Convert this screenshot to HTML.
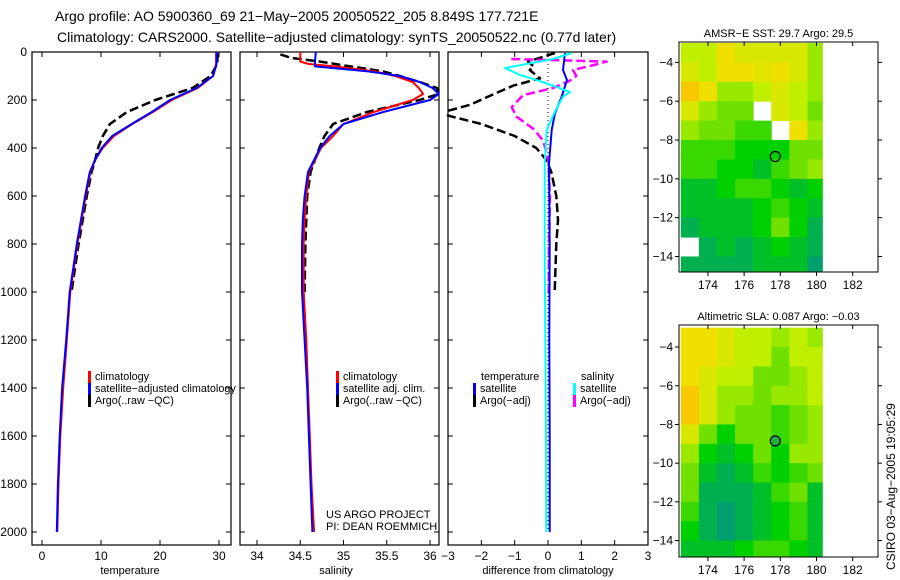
<!DOCTYPE html>
<html><head><meta charset="utf-8"><style>
html,body{margin:0;padding:0;background:#fff;}
svg{display:block;font-family:"Liberation Sans",sans-serif;}
</style></head><body>
<svg id="chart" width="900" height="580" viewBox="0 0 900 580" xmlns="http://www.w3.org/2000/svg">
<text x="55" y="21" font-size="14">Argo profile: AO 5900360_69 21−May−2005 20050522_205 8.849S 177.721E</text>
<text x="57" y="42" font-size="14">Climatology: CARS2000. Satellite−adjusted climatology: synTS_20050522.nc (0.77d later)</text>
<text transform="translate(895,570) rotate(-90)" font-size="12">CSIRO 03−Aug−2005 19:05:29</text>
<g id="g"></g>
</svg>
<script>
// ---- temperature panel data ----
const tDepth = [0,50,100,150,200,250,300,350,400,450,500,600,800,1000,1200,1400,1600,1800,2000];
const tClim  = [29.5,29.5,29.0,26.4,22.0,18.8,15.3,12.2,10.3,9.0,8.2,7.4,6.0,4.8,4.2,3.6,3.1,2.8,2.6];
const tSat   = [29.6,29.6,29.0,26.2,21.7,18.6,15.2,11.9,10.1,9.0,8.1,7.3,5.9,4.7,4.1,3.4,3.0,2.7,2.5];
const aDepthT = [5,50,100,150,200,250,300,350,400,450,500,600,800,1000];
const tArgo  = [29.8,29.7,28.6,25.5,19.2,14.4,11.5,10.3,9.5,9.0,8.4,7.6,6.2,5.0];
// ---- salinity panel data ----
const sDepth = [0,40,50,60,80,100,125,150,175,200,250,300,350,400,500,600,700,800,1000,1200,1400,1600,1800,2000];
const sClim  = [34.5,34.5,34.6,34.9,35.35,35.6,35.8,35.87,35.92,35.8,35.35,35.0,34.88,34.74,34.6,34.57,34.55,34.54,34.54,34.57,34.59,34.61,34.63,34.66];
const sSat   = [34.68,34.67,34.67,34.67,35.27,35.65,35.88,36.03,36.1,36.0,35.46,35.0,34.84,34.73,34.59,34.55,34.53,34.52,34.52,34.55,34.58,34.6,34.62,34.64];
const aDepthS = [10,25,40,60,80,100,125,150,175,200,250,300,350,400,500,600,800,1000];
const sArgo  = [34.27,34.4,34.73,35.08,35.45,35.65,35.88,36.08,36.1,35.88,35.27,34.88,34.78,34.72,34.62,34.58,34.56,34.55];
// ---- difference panel data ----
const dDepthSat = [4,75,117,186,255,325,464,800,1200,1600,2000];
const dTempSat  = [0.51,0.45,0.57,0.41,0.21,0.11,0.03,0.05,0.04,0.05,0.05];
const dDepthSS  = [4,29,67,96,117,146,167,186,248,325,464,800,1200,1600,2000];
const dSalSat   = [0.71,0.15,-1.29,-0.84,-0.34,0.26,0.66,0.45,0.21,-0.04,-0.1,-0.1,-0.08,-0.06,-0.05];
const dDepthTA  = [4,40,60,75,110,140,170,220,245,265,300,350,400,450,500,600,700,800,1000];
const dTempArgo = [0.21,-0.6,-0.43,-0.55,-0.24,-1.04,-1.54,-2.34,-3.0,-3.0,-2.0,-1.0,-0.35,-0.05,0.1,0.25,0.3,0.25,0.2];
const dDepthSA  = [29,40,50,75,100,120,150,180,230,270,320,370,450,600,800,1000];
const dSalArgo  = [-1.1,1.76,1.5,0.75,0.85,0.65,0.15,-0.75,-1.09,-0.94,-0.44,-0.14,0.01,0.06,0.03,0.02];
// ---- map data (1-degree cells, lon 172.5..180, lat -3..-15; null = no data) ----
const mapLons = [172.5,173.5,174.5,175.5,176.5,177.5,178.5,179.5];
const mapLats = [-3,-4,-5,-6,-7,-8,-9,-10,-11,-12,-13,-14];
const sstGrid = [
 [.6,.6,.8,.7,.7,.7,.7,.5],
 [.7,.6,.8,.8,.75,.8,.7,.5],
 [.9,.8,.5,.5,.6,.7,.6,.5],
 [.7,.5,.4,.4,null,.7,.6,.4],
 [.5,.4,.4,.3,.3,null,.8,.5],
 [.3,.3,.3,.2,.2,.2,.4,.4],
 [.3,.3,.2,.2,.1,.3,.4,.5],
 [.1,.1,.2,.3,.3,.2,.1,.2],
 [.1,.1,.1,.1,.2,.3,.2,.1],
 [0,.1,.1,.1,.2,.4,.2,0],
 [null,0,.1,0,.1,.2,.1,0],
 [0,0,0,0,.1,.1,.1,-.1]];
const slaGrid = [
 [.8,.8,.7,.6,.6,.5,.6,.5],
 [.8,.8,.7,.6,.6,.4,.6,.6],
 [.8,.7,.6,.6,.4,.4,.5,.6],
 [.9,.7,.5,.5,.4,.5,.5,.6],
 [.9,.7,.5,.4,.4,.3,.4,.5],
 [.7,.4,.2,.4,.4,.3,.4,.5],
 [.5,.2,.1,.2,.4,.2,.5,.5],
 [.4,.1,0,.1,.3,.2,.3,.4],
 [.4,0,0,0,.1,.3,.4,.1],
 [.3,0,-.1,0,.1,.2,.3,.1],
 [.2,0,-.1,0,.1,.2,.3,.1],
 [.1,.1,.1,.2,.3,.3,.2,.1]];
const argoLon = 177.721, argoLat = -8.849;

const NS="http://www.w3.org/2000/svg";
const G=document.getElementById('g');
function el(t,a,p){const e=document.createElementNS(NS,t);for(const k in a)e.setAttribute(k,a[k]);(p||G).appendChild(e);return e;}
function txt(x,y,s,sz,anchor,p){const e=el('text',{x:x,y:y,'font-size':sz,'text-anchor':anchor||'start'},p);e.textContent=s;return e;}

const Y0=52, YS=0.24; const yD=d=>Y0+YS*d;
function frame(x0,x1,y0,y1,name){const r=el('rect',{x:x0,y:y0,width:x1-x0,height:y1-y0,fill:'none',stroke:'#000','stroke-width':1.2});}
function line(depths,vals,xf,color,dash,w,name){
  let pts=[];for(let i=0;i<depths.length;i++){if(vals[i]===null)continue;pts.push(xf(vals[i]).toFixed(1)+','+yD(depths[i]).toFixed(1));}
  const p=el('polyline',{points:pts.join(' '),fill:'none',stroke:color,'stroke-width':w||2,'stroke-dasharray':dash||'none','stroke-linejoin':'round'});
  
}
function depthTicks(x0,x1,labels){
  for(let d=0;d<=2000;d+=200){const y=yD(d);el('line',{x1:x0,x2:x0+5,y1:y,y2:y,stroke:'#000'});el('line',{x1:x1,x2:x1-5,y1:y,y2:y,stroke:'#000'});
    if(labels){const t=txt(x0-5,y+4,String(d),12,'end');}}
}
function xTicks(vals,xf,y0,y1,fmt){
  vals.forEach(v=>{const x=xf(v);el('line',{x1:x,x2:x,y1:y1,y2:y1-5,stroke:'#000'});el('line',{x1:x,x2:x,y1:y0,y2:y0+5,stroke:'#000'});
    const t=txt(x,y1+15,fmt?fmt(v):String(v),12,'middle');});
}
function legend(x,y,items){
  items.forEach((it,i)=>{el('rect',{x:x,y:y+i*12-9,width:3,height:12,fill:it[1]});const t=txt(x+7,y+i*12,it[0],10.8);});
}
// Panel 1 temperature
const xT=v=>42+5.9*v;
frame(32,231,52,545,'temperature-panel');depthTicks(32,231,true);
xTicks([0,10,20,30],xT,52,545);
let t=txt(130,574,'temperature',11,'middle');
line(aDepthT,tArgo,xT,'#000','9,4',2.5,'temp-argo-line');
line(tDepth,tClim,xT,'#f00',null,2,'temp-climatology-line');
line(tDepth,tSat,xT,'#00f',null,2,'temp-satellite-line');
legend(88,380,[['climatology','#f00'],['satellite−adjusted climatology','#00f'],['Argo(..raw −QC)','#000']]);
// Panel 2 salinity
const xS=v=>257+86.5*(v-34);
frame(240,439,52,545,'salinity-panel');depthTicks(240,439,false);
xTicks([34,34.5,35,35.5,36],xS,52,545);
t=txt(336,574,'salinity',11,'middle');
line(aDepthS,sArgo,xS,'#000','9,4',2.5,'sal-argo-line');
line(sDepth,sClim,xS,'#f00',null,2,'sal-climatology-line');
line(sDepth,sSat,xS,'#00f',null,2,'sal-satellite-line');
legend(336,380,[['climatology','#f00'],['satellite adj. clim.','#00f'],['Argo(..raw −QC)','#000']]);
t=txt(326,518,'US ARGO PROJECT',11);
t=txt(326,530,'PI: DEAN ROEMMICH',11);
// Panel 3 difference
const xDf=v=>548+33.33*Math.max(-3,Math.min(3,v));
frame(448,648,52,545,'difference-panel');depthTicks(448,648,false);
xTicks([-3,-2,-1,0,1,2,3],xDf,52,545,v=>v<0?'−'+(-v):String(v));
t=txt(548,574,'difference from climatology',11,'middle');
el('line',{x1:548,x2:548,y1:52,y2:532,stroke:'#000','stroke-dasharray':'1,3'});
line(dDepthTA,dTempArgo,xDf,'#000','9,4',2.5,'diff-temp-argo-line');
line(dDepthSA,dSalArgo,xDf,'#f0f','9,4',2.5,'diff-sal-argo-line');
line(dDepthSat,dTempSat,xDf,'#00f',null,2,'diff-temp-satellite-line');
line(dDepthSS,dSalSat,xDf,'#0ff',null,2,'diff-sal-satellite-line');
t=txt(481,380,'temperature',10.8);
legend(473,392,[['satellite','#00f'],['Argo(−adj)','#000']]);
t=txt(581,380,'salinity',10.8);
legend(573,392,[['satellite','#0ff'],['Argo(−adj)','#f0f']]);
// Maps
function cmap(v){const stops=[[-.1,[0,160,110]],[0,[0,176,80]],[.2,[0,208,0]],[.4,[112,224,0]],[.6,[192,240,0]],[.8,[240,224,0]],[1,[255,176,0]]];
  v=Math.max(-.1,Math.min(1,v));for(let i=1;i<stops.length;i++){if(v<=stops[i][0]){const a=stops[i-1],b=stops[i],f=(v-a[0])/(b[0]-a[0]);return 'rgb('+a[1].map((c,k)=>Math.round(c+(b[1][k]-c)*f)).join(',')+')';}}return 'rgb(255,176,0)';}
function drawMap(name,title,grid,fx0,fx1,fy0,fy1,latTop,latBot,filledDot){
  const lonL=172.4,lonR=183.4;const X=lo=>fx0+(lo-lonL)/(lonR-lonL)*(fx1-fx0);const Y=la=>fy0+(latTop-la)/(latTop-latBot)*(fy1-fy0);
  const g=el('g',{});
  const xMax=X(180.35);
  grid.forEach((row,r)=>row.forEach((v,c)=>{if(v===null)return;const lo=mapLons[c],la=mapLats[r];
    const hi=(c===row.length-1)?180.35:lo+1;
    const x0=Math.max(fx0,X(lo)),x1=Math.min(xMax,X(hi)),y0=Math.max(fy0,Y(la)),y1=Math.min(fy1,Y(la-1));
    const cell=el('rect',{x:x0,y:y0,width:x1-x0+(x1<xMax?0.5:0),height:y1-y0+0.5,fill:cmap(v)},g);
    }));
  el('rect',{x:fx0,y:fy0,width:fx1-fx0,height:fy1-fy0,fill:'none',stroke:'#000'},g);
  [174,176,178,180,182].forEach(lo=>{const x=X(lo);el('line',{x1:x,x2:x,y1:fy1,y2:fy1+4,stroke:'#000'},g);el('line',{x1:x,x2:x,y1:fy0,y2:fy0+4,stroke:'#000'},g);txt(x,fy1+17,String(lo),12,'middle',g);});
  [-4,-6,-8,-10,-12,-14].forEach(la=>{const y=Y(la);el('line',{x1:fx0-4,x2:fx0,y1:y,y2:y,stroke:'#000'},g);el('line',{x1:fx1,x2:fx1+4,y1:y,y2:y,stroke:'#000'},g);txt(fx0-6,y+4,'−'+(-la),12,'end',g);});
  const c=el('circle',{cx:X(argoLon),cy:Y(argoLat),r:5,fill:filledDot?'#20b040':'none',stroke:'#000','stroke-width':1.2},g);
  
  const tt=txt((fx0+fx1)/2,fy0-5,title,11,'middle',g);
}
drawMap('sst-map','AMSR−E SST: 29.7 Argo: 29.5',sstGrid,679,878,42,272,-2.95,-14.8,false);
drawMap('sla-map','Altimetric SLA: 0.087 Argo: −0.03',slaGrid,679,878,325,557,-2.86,-14.85,true);
</script>
</body></html>
